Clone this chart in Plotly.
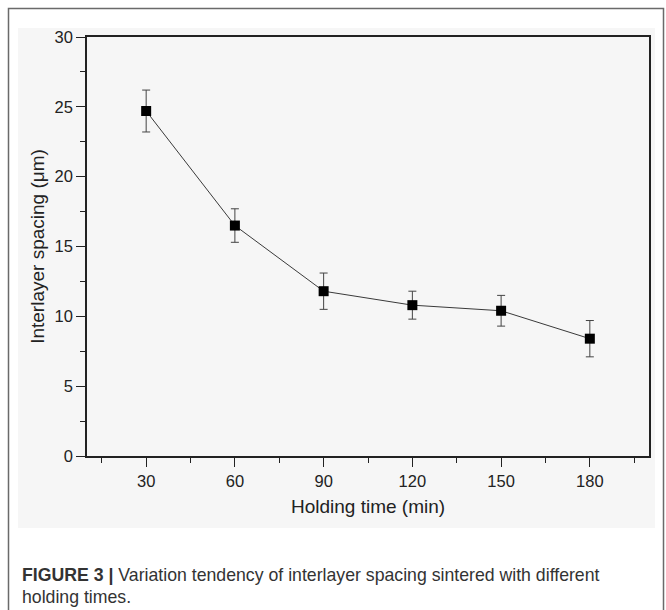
import plotly.graph_objects as go

# Holding time (min) and measured interlayer spacing (um) with error bars
holding_time = [30, 60, 90, 120, 150, 180]
spacing = [24.7, 16.5, 11.8, 10.8, 10.4, 8.4]
spacing_err = [1.5, 1.2, 1.3, 1.0, 1.1, 1.3]

x_ticks = [30, 60, 90, 120, 150, 180]
y_ticks = [0, 5, 10, 15, 20, 25, 30]

W, H = 666, 610
L, R, T, B = 87, 649, 37, 456  # plot area in pixels


def px_x(px):
    return (px - L) / (R - L)


def px_y(py):
    return (B - py) / (B - T)


FONT = "Liberation Sans, Arial, sans-serif"
INK = "#222222"

fig = go.Figure()
fig.add_trace(go.Scatter(
    x=holding_time,
    y=spacing,
    mode="lines+markers",
    line=dict(color="#3a3a3a", width=1),
    marker=dict(symbol="square", size=10, color="#000000"),
    error_y=dict(type="data", array=spacing_err, visible=True,
                 color="#444444", thickness=1, width=4),
    showlegend=False,
    hoverinfo="x+y",
))

axis_common = dict(
    showline=True, linecolor=INK, linewidth=1.5, mirror=True,
    showgrid=False, zeroline=False,
    ticks="outside", ticklen=9, tickwidth=1.2, tickcolor=INK,
    tickfont=dict(family=FONT, size=16.5, color=INK),
)

fig.update_layout(
    width=W, height=H,
    margin=dict(l=L, r=W - R, t=T, b=H - B),
    paper_bgcolor="#ffffff",
    plot_bgcolor="#f6f6f6",
    font=dict(family=FONT, color=INK),
    xaxis=dict(
        range=[10, 200], tickvals=x_ticks, ticktext=[str(v) for v in x_ticks],
        minor=dict(tickvals=[15, 45, 75, 105, 135, 165, 195], ticks="outside",
                   ticklen=5, tickwidth=1.2, tickcolor=INK),
        title=dict(text="Holding time (min)", font=dict(family=FONT, size=19, color=INK),
                   standoff=11),
        **axis_common,
    ),
    yaxis=dict(
        range=[0, 30], tickvals=y_ticks, ticktext=[str(v) for v in y_ticks],
        minor=dict(tickvals=[2.5, 7.5, 12.5, 17.5, 22.5, 27.5], ticks="outside",
                   ticklen=5, tickwidth=1.2, tickcolor=INK),
        title=dict(text="Interlayer spacing (\u03bcm)", font=dict(family=FONT, size=19, color=INK),
                   standoff=5),
        **axis_common,
    ),
    shapes=[
        # light panel behind the chart
        dict(type="rect", xref="paper", yref="paper", layer="below",
             x0=px_x(18), x1=px_x(655), y0=px_y(528), y1=px_y(28),
             fillcolor="#f6f6f6", line=dict(width=0)),
        # figure frame
        dict(type="rect", xref="paper", yref="paper", layer="above",
             x0=px_x(8.5), x1=px_x(663.5), y0=px_y(640), y1=px_y(8.5),
             fillcolor="rgba(0,0,0,0)", line=dict(color="#6a6a6a", width=1.5)),
    ],
    annotations=[
        dict(xref="paper", yref="paper", x=px_x(20), y=px_y(575),
             xanchor="left", yanchor="middle", showarrow=False, align="left",
             text="<b>FIGURE 3 |</b> Variation tendency of interlayer spacing sintered with different",
             font=dict(family=FONT, size=17.7, color="#333333")),
        dict(xref="paper", yref="paper", x=px_x(20), y=px_y(597),
             xanchor="left", yanchor="middle", showarrow=False, align="left",
             text="holding times.",
             font=dict(family=FONT, size=17.7, color="#333333")),
    ],
)

fig.write_html("out.html")
